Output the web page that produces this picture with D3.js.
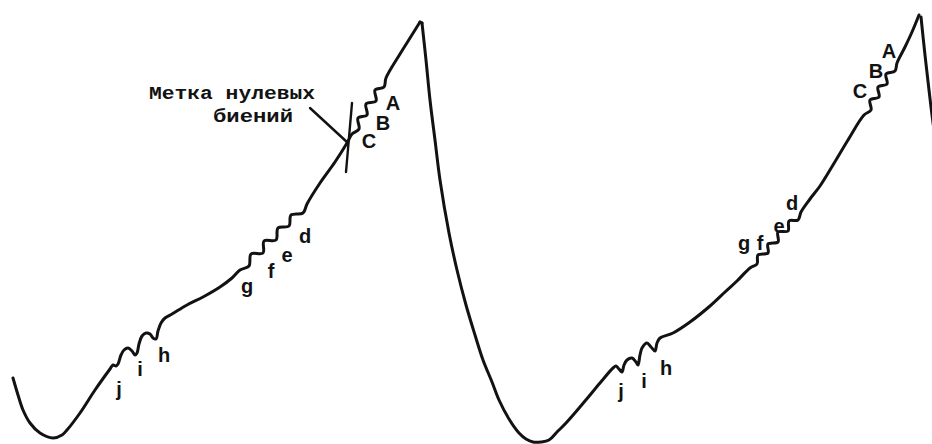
<!DOCTYPE html>
<html>
<head>
<meta charset="utf-8">
<script src="https://cdn.jsdelivr.net/npm/d3@7"></script>
<style>
  html, body { margin: 0; padding: 0; background: #fff; }
  svg { display: block; }
</style>
</head>
<body>
<svg id="chart" width="932" height="444"></svg>
<script>
// ---- Data (time t, deflection v) ----
// first sweep: rise with beat wiggles
const riseA = [
  [13,66],[18,49],[23,34],[30,21],[40,11],[53,6],[62,9],[67,14],[80,31],[95,54],[110,75],
  [113,79],[116,78],[118,80],[121,89],[124,94],[128,96],[132,93],[135,89],[137,91],
  [139,100],[142,108],[146,111],[150,110],[153,106],[156,105],[158,113],[161,121],[165,126],
  [172,130],[187,139],[203,147],[220,157],[232,166],[240,174],
  [249,178],[251,190],[263,191],[264,203],[276,204],[278,216],[289,218],[291,229],[303,231],[307,240],
  [320,261],[335,282],[347,301],
  [352,310],[359,315],[358,326],[367,329],[366,340],[376,343],[375,354],[384,357],[386,366],
  [400,390],[410,406],[420,422]
];
// first flyback
const fallA = [
  [422,421],[426,384],[430,344],[435,304],[440,264],[449,211],[457,174],[466,139],[475,109],
  [483,84],[492,62],[499,44],[509,25],[519,11],[526,5],[533,2],[541,2],[549,4]
];
// second sweep
const riseB = [
  [557,12],[566,21],[585,43],[600,61],[613,76],
  [616,78],[619,75],[622,72],[624,79],[627,84],[632,86],[636,82],[638,79],
  [640,89],[642,96],[647,101],[651,97],[655,93],[657,101],[660,106],
  [673,111],[690,122],[710,138],[725,152],[737,163],[750,176],
  [757,180],[758,189],[768,191],[768,200],[778,202],[778,212],[788,213],[789,223],[798,224],[801,232],
  [810,245],[820,258],[833,279],[848,304],[864,329],
  [871,334],[870,344],[879,347],[878,357],[887,360],[886,370],[895,373],[897,381],
  [905,397],[912,412],[919,429]
];
// second flyback
const fallB = [[921,427],[925,389],[929,354],[932,329],[936,299]];

// beat markers
const beatNames = ["j","i","h","g","f","e","d","C","B","A"];
const beatA_t = [119,140,164,247,271,287,305,369,383,393];
const beatA_v = [48,68,82,151,166,182,201,296,314,334];
const beatB_t = [621,644,666,744,760,779,792,860,876,889];
const beatB_v = [46,56,69,194,194,211,234,346,366,386];

// zero-beat mark and its caption
const zeroMark = [[352,341],[346,272]];
const zeroPointer = [[310,336],[348,301]];
const noteLines = ["Метка нулевых", "биений"];
const note_t = [232, 253];
const note_v = [345, 322];

// ---- Drawing ----
const W = 932, H = 444;
const svg = d3.select("#chart");
const x = d3.scaleLinear().domain([0, 932]).range([0, W]);
const y = d3.scaleLinear().domain([0, 444]).range([H, 0]);

const line = d3.line().x(d => x(d[0])).y(d => y(d[1]));
const smooth = d3.line().x(d => x(d[0])).y(d => y(d[1])).curve(d3.curveCatmullRom.alpha(0.5));

const ink = "#121212";

[riseA, fallA.concat(riseB), fallB].forEach(seg => {
  svg.append("path")
    .attr("d", smooth(seg))
    .attr("fill", "none")
    .attr("stroke", ink)
    .attr("stroke-width", 3)
    .attr("stroke-linejoin", "round")
    .attr("stroke-linecap", "round");
});
// sharp peak join between rise and fall
svg.append("path")
  .attr("d", line([riseA[riseA.length-1], fallA[0]]))
  .attr("stroke", ink).attr("stroke-width", 3).attr("stroke-linecap","round");

[zeroMark, zeroPointer].forEach(seg => {
  svg.append("path")
    .attr("d", line(seg))
    .attr("stroke", ink)
    .attr("stroke-width", 2.4)
    .attr("stroke-linecap", "round");
});

const labelFont = "'Liberation Sans', Arial, sans-serif";
function beatLabels(ts, vs) {
  svg.append("g").selectAll("text")
    .data(beatNames)
    .join("text")
    .attr("x", (d, i) => x(ts[i]))
    .attr("y", (d, i) => y(vs[i]))
    .attr("text-anchor", "middle")
    .attr("font-family", labelFont)
    .attr("font-weight", "bold")
    .attr("font-size", 20)
    .attr("fill", ink)
    .text(d => d);
}
beatLabels(beatA_t, beatA_v);
beatLabels(beatB_t, beatB_v);

const noteWidths = [166, 80];
svg.append("g").selectAll("text")
  .data(noteLines)
  .join("text")
  .attr("x", (d, i) => x(note_t[i]) - noteWidths[i] / 2)
  .attr("y", (d, i) => y(note_v[i]))
  .attr("textLength", (d, i) => noteWidths[i])
  .attr("lengthAdjust", "spacingAndGlyphs")
  .attr("font-family", "'Liberation Mono', 'DejaVu Sans Mono', monospace")
  .attr("font-weight", "bold")
  .attr("font-size", 19)
  .attr("fill", ink)
  .text(d => d);
</script>
</body>
</html>
